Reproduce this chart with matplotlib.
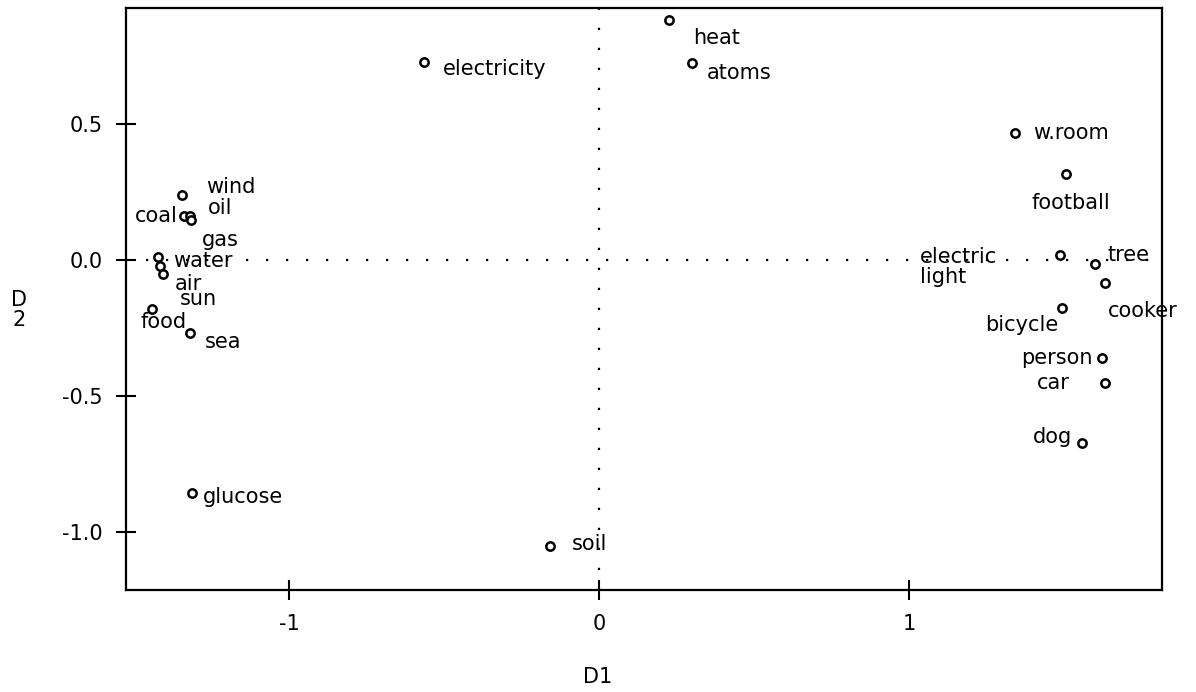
import matplotlib.pyplot as plt

# concept coordinates on the two dimensions
names = ["electricity", "heat", "atoms", "soil", "glucose",
         "wind", "coal", "oil", "gas", "water", "sun", "air", "food", "sea",
         "w.room", "football", "electric\nlight", "tree", "cooker", "bicycle",
         "person", "car", "dog"]
d1 = [-0.565, 0.226, 0.300, -0.158, -1.313,
      -1.345, -1.339, -1.319, -1.316, -1.423, -1.416, -1.406, -1.442, -1.319,
      1.342, 1.506, 1.487, 1.600, 1.632, 1.494,
      1.623, 1.632, 1.558]
d2 = [0.728, 0.882, 0.724, -1.051, -0.857,
      0.239, 0.162, 0.162, 0.147, 0.011, -0.022, -0.051, -0.180, -0.268,
      0.467, 0.316, 0.018, -0.015, -0.085, -0.176,
      -0.360, -0.452, -0.673]

# label offsets in pixels (dx right, dy down) and alignment
offsets = {
    "electricity": (19, 7, "left"), "heat": (24, 18, "left"), "atoms": (15, 10, "left"),
    "soil": (22, -2, "left"), "glucose": (11, 4, "left"), "wind": (24, -8, "left"),
    "coal": (-6, 0, "right"), "oil": (18, -8, "left"), "gas": (11, 20, "left"),
    "water": (15, 4, "left"), "sun": (20, 33, "left"), "air": (11, 10, "left"),
    "food": (-12, 13, "left"), "sea": (15, 9, "left"), "w.room": (18, 0, "left"),
    "football": (5, 29, "center"), "electric\nlight": (-140, 12, "left"),
    "tree": (12, -9, "left"), "cooker": (3, 28, "left"), "bicycle": (-4, 17, "right"),
    "person": (-10, 0, "right"), "car": (-35, 0, "right"), "dog": (-10, -6, "right"),
}

FS = 15

fig = plt.figure(figsize=(11.96, 6.92), dpi=100)
ax = fig.add_axes([0.1054, 0.1474, 0.8662, 0.8410])

ax.axhline(0, color="black", linestyle=(0, (1, 8)), linewidth=1.6, zorder=1)
ax.axvline(0, color="black", linestyle=(0, (1, 8)), linewidth=1.6, zorder=1)

ax.plot(d1, d2, "o", markersize=6, markerfacecolor="white",
        markeredgecolor="black", markeredgewidth=1.8, zorder=3)

for n, x, y in zip(names, d1, d2):
    dx, dy, ha = offsets[n]
    ax.annotate(n, (x, y), xytext=(dx * 0.72, -dy * 0.72), textcoords="offset points",
                ha=ha, va="center", fontsize=FS, linespacing=0.95, color="black")

ax.set_xlim(-1.526, 1.816)
ax.set_ylim(-1.213, 0.926)
ax.set_xticks([-1, 0, 1])
ax.set_xticklabels(["-1", "0", "1"])
ax.set_yticks([-1.0, -0.5, 0.0, 0.5])
ax.set_yticklabels(["-1.0", "-0.5", "0.0", "0.5"])
ax.tick_params(direction="inout", length=14, width=1.5, labelsize=FS, pad=10)
for s in ax.spines.values():
    s.set_linewidth(1.6)

fig.text(598 / 1196, 1 - 677 / 692, "D1", ha="center", va="center", fontsize=FS)
fig.text(19 / 1196, 1 - 310 / 692, "D\n2", ha="center", va="center", fontsize=FS,
         linespacing=1.0)

fig.savefig("out.png", dpi=100)
